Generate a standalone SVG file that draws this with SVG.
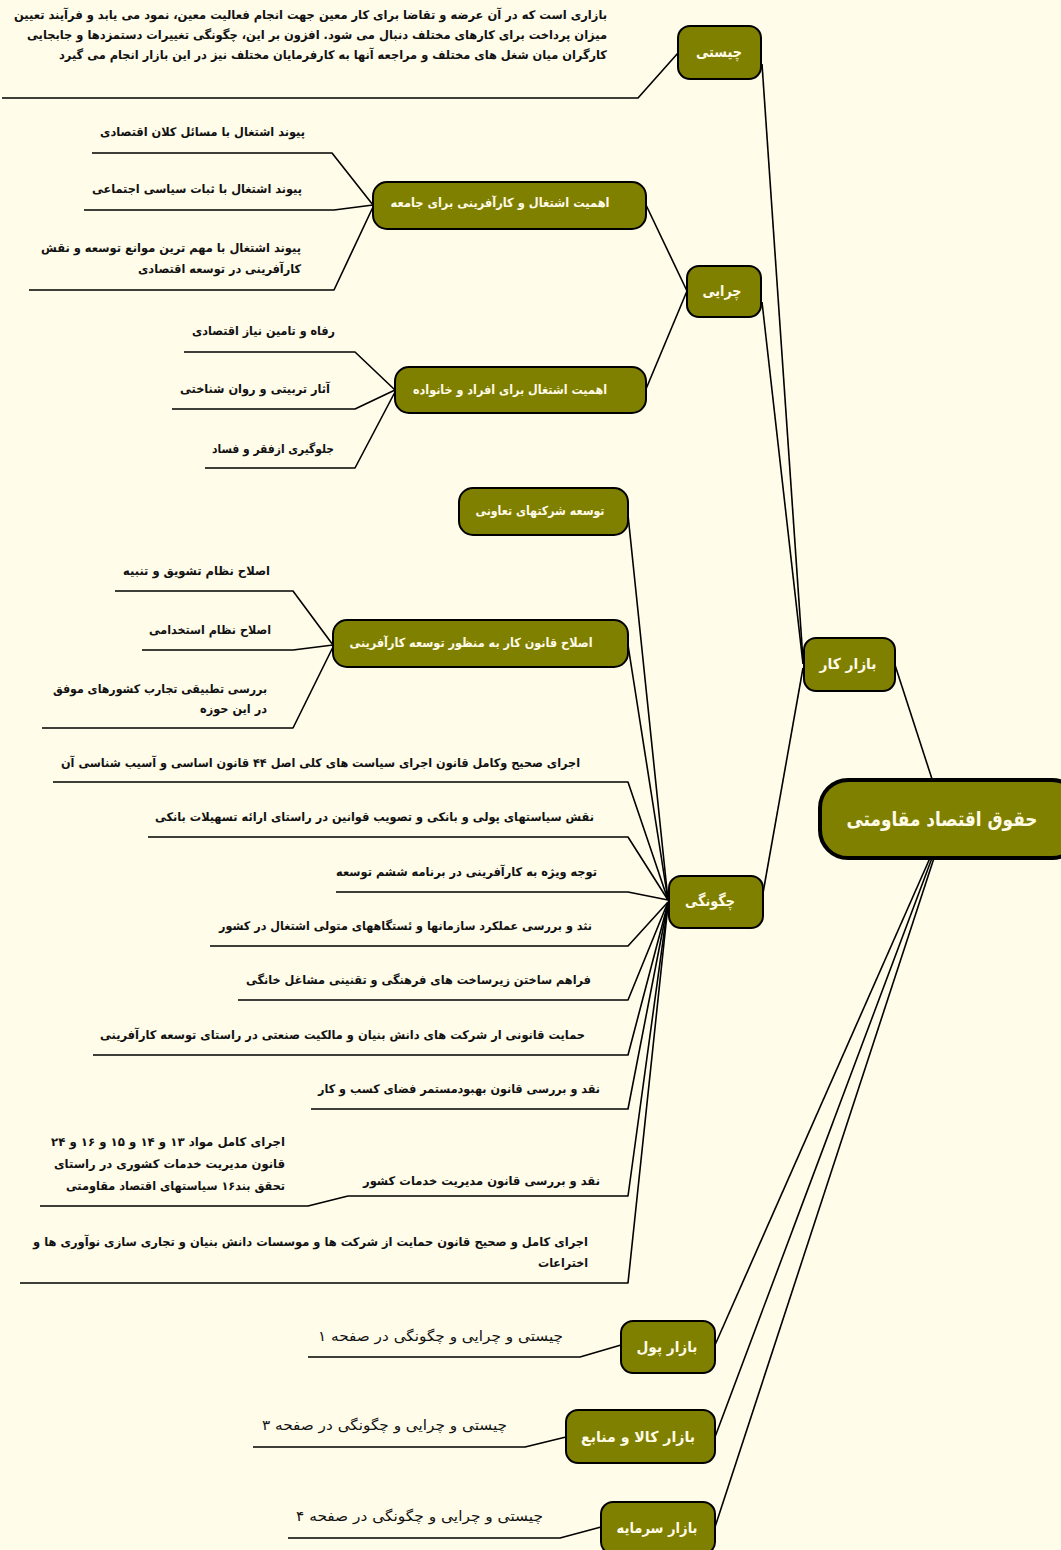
<svg xmlns="http://www.w3.org/2000/svg" width="1061" height="1550" viewBox="0 0 1061 1550">
<style>
.bg{fill:#FFFCEA}
.n{fill:#7F7F00;stroke:#000;stroke-width:2}
.root{fill:#7F7F00;stroke:#000;stroke-width:4}
.nt{fill:#FFFBE6;font-family:"DejaVu Sans",sans-serif;font-weight:bold;font-size:12.5px;text-anchor:middle;dominant-baseline:central}
.big{font-size:15px}
.rt{font-size:20px}
.c{fill:none;stroke:#000;stroke-width:1.6;stroke-linejoin:round}
.t{fill:#111;font-family:"DejaVu Sans",sans-serif;font-weight:bold;font-size:12px;direction:rtl;text-anchor:start}
.tb{font-size:14px;font-weight:normal}
</style>
<rect class="bg" x="0" y="0" width="1061" height="1550"/>
<g id="connectors">
<line class="c" x1="895" y1="665" x2="932" y2="779"/>
<line class="c" x1="930" y1="858" x2="715" y2="1345"/>
<line class="c" x1="932" y1="858" x2="715" y2="1437"/>
<line class="c" x1="934" y1="858" x2="715" y2="1527"/>
<line class="c" x1="803" y1="660" x2="762" y2="64"/>
<line class="c" x1="803" y1="664" x2="762" y2="302"/>
<line class="c" x1="803" y1="668" x2="763" y2="893"/>
<polyline class="c" points="678,53 638,98 2,98"/>
<line class="c" x1="687" y1="291" x2="646" y2="205"/>
<line class="c" x1="687" y1="291" x2="646" y2="389"/>
<polyline class="c" points="373,205 332,153 92,153"/>
<polyline class="c" points="373,205 334,210 84,210"/>
<polyline class="c" points="373,207 334,290 29,290"/>
<polyline class="c" points="395,390 355,352 184,352"/>
<polyline class="c" points="395,390 355,409 172,409"/>
<polyline class="c" points="395,392 355,468 205,468"/>
<line class="c" x1="668" y1="900" x2="628" y2="515"/>
<line class="c" x1="668" y1="900" x2="628" y2="645"/>
<polyline class="c" points="333,645 293,591 115,591"/>
<polyline class="c" points="333,645 293,650 142,650"/>
<polyline class="c" points="333,647 293,728 42,728"/>
<polyline class="c" points="668,900 628,782 53,782"/>
<polyline class="c" points="668,900 628,837 148,837"/>
<polyline class="c" points="668,900 628,892 336,892"/>
<polyline class="c" points="668,902 628,946 210,946"/>
<polyline class="c" points="668,902 628,1000 238,1000"/>
<polyline class="c" points="668,903 628,1055 93,1055"/>
<polyline class="c" points="668,903 628,1109 311,1109"/>
<polyline class="c" points="668,904 628,1196 348,1196"/>
<polyline class="c" points="348,1196 308,1206 40,1206"/>
<polyline class="c" points="668,905 628,1283 20,1283"/>
<polyline class="c" points="621,1345 580,1357 308,1357"/>
<polyline class="c" points="566,1437 525,1447 253,1447"/>
<polyline class="c" points="601,1527 560,1538 288,1538"/>
</g>
<g id="root"><rect class="root" x="820" y="780" width="260" height="78" rx="28"/><text class="nt rt" x="942" y="819" textLength="191" lengthAdjust="spacingAndGlyphs">حقوق اقتصاد مقاومتی</text></g>
<g id="bazar-kar"><rect class="n" x="804" y="638" width="91" height="53" rx="12"/><text class="nt big" x="848" y="664" textLength="57" lengthAdjust="spacingAndGlyphs">بازار کار</text></g>
<g id="chisti"><rect class="n" x="678" y="26" width="83" height="53" rx="12"/><text class="nt big" x="719" y="52" textLength="46" lengthAdjust="spacingAndGlyphs">چیستی</text></g>
<g id="chisti-text">
<text class="t" x="607" y="19" textLength="593" lengthAdjust="spacingAndGlyphs">بازاری است که در آن عرضه و تقاضا برای کار معین جهت انجام فعالیت معین، نمود می یابد و فرآیند تعیین</text>
<text class="t" x="607" y="39" textLength="580" lengthAdjust="spacingAndGlyphs">میزان پرداخت برای کارهای مختلف دنبال می شود. افزون بر این، چگونگی تغییرات دستمزدها و جابجایی</text>
<text class="t" x="607" y="59" textLength="548" lengthAdjust="spacingAndGlyphs">کارگران میان شغل های مختلف و مراجعه آنها به کارفرمایان مختلف نیز در این بازار انجام می گیرد</text>
</g>
<g id="chirayi"><rect class="n" x="687" y="266" width="74" height="51" rx="12"/><text class="nt big" x="722" y="291" textLength="39" lengthAdjust="spacingAndGlyphs">چرایی</text></g>
<g id="jamee"><rect class="n" x="373" y="182" width="273" height="47" rx="14"/><text class="nt" x="500" y="202" textLength="219" lengthAdjust="spacingAndGlyphs">اهمیت اشتغال و کارآفرینی برای جامعه</text></g>
<g id="jamee-1"><text class="t" x="305" y="136" textLength="205" lengthAdjust="spacingAndGlyphs">پیوند اشتغال با مسائل کلان اقتصادی</text></g>
<g id="jamee-2"><text class="t" x="302" y="193" textLength="210" lengthAdjust="spacingAndGlyphs">پیوند اشتغال با ثبات سیاسی اجتماعی</text></g>
<g id="jamee-3"><text class="t" x="301" y="252" textLength="260" lengthAdjust="spacingAndGlyphs">پیوند اشتغال با مهم ترین موانع توسعه و نقش</text><text class="t" x="301" y="273" textLength="163" lengthAdjust="spacingAndGlyphs">کارآفرینی در توسعه اقتصادی</text></g>
<g id="afrad"><rect class="n" x="395" y="367" width="251" height="46" rx="14"/><text class="nt" x="510" y="389" textLength="194" lengthAdjust="spacingAndGlyphs">اهمیت اشتغال برای افراد و خانواده</text></g>
<g id="afrad-1"><text class="t" x="335" y="335" textLength="143" lengthAdjust="spacingAndGlyphs">رفاه و تامین نیاز اقتصادی</text></g>
<g id="afrad-2"><text class="t" x="330" y="393" textLength="150" lengthAdjust="spacingAndGlyphs">آثار تربیتی و روان شناختی</text></g>
<g id="afrad-3"><text class="t" x="334" y="453" textLength="122" lengthAdjust="spacingAndGlyphs">جلوگیری ازفقر و فساد</text></g>
<g id="chegonegi"><rect class="n" x="669" y="876" width="94" height="52" rx="12"/><text class="nt big" x="710" y="901" textLength="50" lengthAdjust="spacingAndGlyphs">چگونگی</text></g>
<g id="taavoni"><rect class="n" x="459" y="488" width="169" height="47" rx="14"/><text class="nt" x="540" y="510" textLength="129" lengthAdjust="spacingAndGlyphs">توسعه شرکتهای تعاونی</text></g>
<g id="eslah"><rect class="n" x="333" y="620" width="295" height="47" rx="14"/><text class="nt" x="471" y="642" textLength="243" lengthAdjust="spacingAndGlyphs">اصلاح قانون کار به منظور توسعه کارآفرینی</text></g>
<g id="eslah-1"><text class="t" x="270" y="575" textLength="147" lengthAdjust="spacingAndGlyphs">اصلاح نظام تشویق و تنبیه</text></g>
<g id="eslah-2"><text class="t" x="271" y="634" textLength="122" lengthAdjust="spacingAndGlyphs">اصلاح نظام استخدامی</text></g>
<g id="eslah-3"><text class="t" x="267" y="693" textLength="214" lengthAdjust="spacingAndGlyphs">بررسی تطبیقی تجارب کشورهای موفق</text><text class="t" x="267" y="713" textLength="67" lengthAdjust="spacingAndGlyphs">در این حوزه</text></g>
<g id="ch-1"><text class="t" x="580" y="767" textLength="519" lengthAdjust="spacingAndGlyphs">اجرای صحیح وکامل قانون اجرای سیاست های کلی  اصل ۴۴ قانون اساسی و آسیب شناسی آن</text></g>
<g id="ch-2"><text class="t" x="594" y="821" textLength="439" lengthAdjust="spacingAndGlyphs">نقش سیاستهای پولی و بانکی و تصویب قوانین در راستای ارائه تسهیلات بانکی</text></g>
<g id="ch-3"><text class="t" x="597" y="876" textLength="261" lengthAdjust="spacingAndGlyphs">توجه ویژه به کارآفرینی در برنامه ششم توسعه</text></g>
<g id="ch-4"><text class="t" x="592" y="930" textLength="373" lengthAdjust="spacingAndGlyphs">نثد و بررسی عملکرد سازمانها و ئستگاههای متولی اشتغال در کشور</text></g>
<g id="ch-5"><text class="t" x="591" y="984" textLength="345" lengthAdjust="spacingAndGlyphs">فراهم ساختن زیرساخت های فرهنگی و تقنینی مشاغل خانگی</text></g>
<g id="ch-6"><text class="t" x="585" y="1039" textLength="485" lengthAdjust="spacingAndGlyphs">حمایت قانونی ار شرکت های دانش بنیان و مالکیت صنعتی در راستای توسعه کارآفرینی</text></g>
<g id="ch-7"><text class="t" x="600" y="1093" textLength="282" lengthAdjust="spacingAndGlyphs">نقد و بررسی قانون بهبودمستمر فضای کسب و کار</text></g>
<g id="ch-8"><text class="t" x="600" y="1185" textLength="237" lengthAdjust="spacingAndGlyphs">نقد و بررسی قانون مدیریت خدمات کشور</text></g>
<g id="ch-8-1"><text class="t" x="285" y="1146" textLength="234" lengthAdjust="spacingAndGlyphs">اجرای کامل مواد ۱۳ و ۱۴ و ۱۵ و ۱۶ و ۲۴</text><text class="t" x="285" y="1168" textLength="231" lengthAdjust="spacingAndGlyphs">قانون مدیریت خدمات کشوری در راستای</text><text class="t" x="285" y="1190" textLength="219" lengthAdjust="spacingAndGlyphs">تحقق بند۱۶ سیاستهای اقتصاد مقاومتی</text></g>
<g id="ch-9"><text class="t" x="588" y="1246" textLength="555" lengthAdjust="spacingAndGlyphs">اجرای کامل و صحیح قانون حمایت از شرکت ها و موسسات دانش بنیان و تجاری سازی نوآوری ها و</text><text class="t" x="588" y="1267" textLength="50" lengthAdjust="spacingAndGlyphs">اختراعات</text></g>
<g id="bazar-pool"><rect class="n" x="621" y="1321" width="94" height="52" rx="12"/><text class="nt big" x="667" y="1347" textLength="61" lengthAdjust="spacingAndGlyphs">بازار پول</text></g>
<g id="pool-1"><text class="t tb" x="563" y="1341" textLength="245" lengthAdjust="spacingAndGlyphs">چیستی و چرایی و چگونگی در صفحه ۱</text></g>
<g id="bazar-kala"><rect class="n" x="566" y="1410" width="149" height="53" rx="12"/><text class="nt big" x="638" y="1437" textLength="114" lengthAdjust="spacingAndGlyphs">بازار کالا و منابع</text></g>
<g id="kala-1"><text class="t tb" x="507" y="1430" textLength="245" lengthAdjust="spacingAndGlyphs">چیستی و چرایی و چگونگی در صفحه ۳</text></g>
<g id="bazar-sarmaye"><rect class="n" x="601" y="1502" width="114" height="52" rx="12"/><text class="nt big" x="657" y="1528" textLength="81" lengthAdjust="spacingAndGlyphs">بازار سرمایه</text></g>
<g id="sarmaye-1"><text class="t tb" x="543" y="1521" textLength="247" lengthAdjust="spacingAndGlyphs">چیستی و چرایی و چگونگی در صفحه ۴</text></g>
</svg>
